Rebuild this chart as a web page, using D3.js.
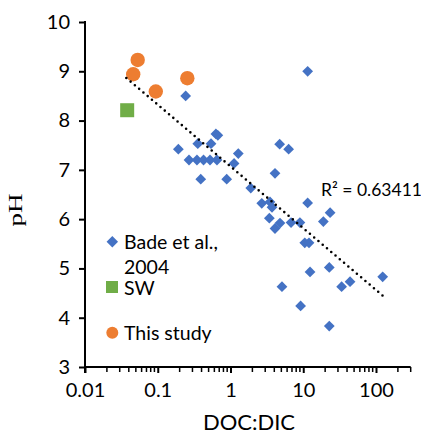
<!DOCTYPE html>
<html><head><meta charset="utf-8">
<script src="https://cdn.jsdelivr.net/npm/d3@7"></script>
<style>body{margin:0;background:#fff}svg{display:block}</style>
</head><body>
<script>
// ---- data ----
const badeX  = [11.5,0.242,0.63,0.67,0.192,0.355,0.54,0.269,0.346,0.426,0.523,0.652,1.28,1.12,0.39,0.887,4.74,6.3,4.09,1.9,2.69,3.49,3.72,3.42,4.09,4.79,6.8,9.0,11.5,10.5,12.0,18.9,23.4,12.4,22.8,5.1,33.7,44.0,123.6,9.2,22.8];
const badePH = [9.0,8.5,7.73,7.70,7.42,7.53,7.53,7.2,7.2,7.2,7.2,7.2,7.33,7.13,6.81,6.81,7.52,7.42,6.93,6.63,6.32,6.35,6.24,6.02,5.81,5.92,5.93,5.93,6.33,5.52,5.52,5.95,6.13,4.93,5.02,4.63,4.63,4.73,4.83,4.24,3.83];
const swX = [0.038];
const swPH = [8.21];
const studyX  = [0.053,0.046,0.094,0.255];
const studyPH = [9.23,8.94,8.59,8.86];
const trendX = [0.037,123.6];           // trendline x-range
const trendCoef = [-1.253, 7.07];       // pH = a*log10(x) + b
const r2Label = "R² = 0.63411";
const xTicks = [0.01,0.1,1,10,100];
const xTickLabels = ["0.01","0.1","1","10","100"];
const yTicks = [3,4,5,6,7,8,9,10];
const yTickLabels = ["3","4","5","6","7","8","9","10"];
const legendLabels = [["Bade et al.,","2004"],["SW"],["This study"]];
const colors = {bade:"#4472C4", sw:"#70AD47", study:"#ED7D31"};

// ---- layout ----
const W=421,H=435;
const svg=d3.select("body").append("svg").attr("width",W).attr("height",H);
const x=d3.scaleLog().domain([0.01,300]).range([85,410.7]);
const y=d3.scaleLinear().domain([3,10]).range([367,22]);
const font="Lato, 'Open Sans', sans-serif";

// minor ticks
const minor=[];
for(let e=-2;e<=2;e++){for(let m=2;m<=9;m++){const v=m*Math.pow(10,e); if(v<=300) minor.push(v);}}
svg.append("g").selectAll("line").data(minor).join("line")
  .attr("x1",d=>x(d)).attr("x2",d=>x(d)).attr("y1",367).attr("y2",372)
  .attr("stroke","#000").attr("stroke-width",1.5);

// x axis
const xAxis=d3.axisBottom(x).tickValues(xTicks).tickFormat((d,i)=>xTickLabels[i]).tickSize(6).tickPadding(10);
const gx=svg.append("g").attr("transform","translate(0,367)").call(xAxis);
gx.select(".domain").attr("stroke","#000").attr("stroke-width",2).attr("d","M85,0H410.7");
gx.selectAll(".tick line").attr("stroke","#000").attr("stroke-width",2).attr("y1",-1);
gx.selectAll("text").attr("font-family",font).attr("font-size",20).attr("fill","#000");

// y axis
const yAxis=d3.axisLeft(y).tickValues(yTicks).tickFormat((d,i)=>yTickLabels[i]).tickSize(6).tickPadding(9);
const gy=svg.append("g").attr("transform","translate(85,0)").call(yAxis);
gy.select(".domain").attr("stroke","#000").attr("stroke-width",2).attr("d","M0,21V373");
gy.selectAll(".tick line").attr("stroke","#000").attr("stroke-width",2);
gy.selectAll("text").attr("font-family",font).attr("font-size",20).attr("fill","#000");

// axis titles
svg.append("text").attr("x",249).attr("y",430).attr("text-anchor","middle")
  .attr("font-family",font).attr("font-size",22).attr("fill","#000").text("DOC:DIC");
svg.append("text").attr("transform","translate(22,210) rotate(-90) scale(1.5,1)")
  .attr("text-anchor","middle").attr("font-family","'Liberation Serif','Times New Roman',serif")
  .attr("font-size",18).attr("fill","#000").text("pH");

// markers
const diamond=d3.symbol().type(d3.symbolSquare).size(58);
svg.append("g").selectAll("path").data(badeX.map((v,i)=>[v,badePH[i]])).join("path")
  .attr("d",diamond()).attr("fill",colors.bade)
  .attr("transform",d=>`translate(${x(d[0])},${y(d[1])}) rotate(45)`);
svg.append("g").selectAll("rect").data(swX.map((v,i)=>[v,swPH[i]])).join("rect")
  .attr("x",d=>x(d[0])-7).attr("y",d=>y(d[1])-7).attr("width",14).attr("height",14).attr("fill",colors.sw);
svg.append("g").selectAll("circle").data(studyX.map((v,i)=>[v,studyPH[i]])).join("circle")
  .attr("cx",d=>x(d[0])).attr("cy",d=>y(d[1])).attr("r",7.2).attr("fill",colors.study);

// trendline
const tx=d3.range(0,51).map(i=>Math.pow(10,Math.log10(trendX[0])+i/50*(Math.log10(trendX[1])-Math.log10(trendX[0]))));
svg.append("path").datum(tx)
  .attr("d",d3.line().x(d=>x(d)).y(d=>y(trendCoef[0]*Math.log10(d)+trendCoef[1])))
  .attr("fill","none").attr("stroke","#000").attr("stroke-width",2.6)
  .attr("stroke-linecap","round").attr("stroke-dasharray","0 5.6");
svg.append("text").attr("x",321).attr("y",196).attr("font-family",font).attr("font-size",17.5).attr("fill","#000").text(r2Label);

// legend
const lg=svg.append("g").attr("font-family",font).attr("font-size",19.5).attr("fill","#000");
lg.append("path").attr("d",d3.symbol().type(d3.symbolSquare).size(66)()).attr("fill",colors.bade)
  .attr("transform","translate(112.3,241.7) rotate(45)");
lg.append("text").attr("x",124).attr("y",248.5).text(legendLabels[0][0]);
lg.append("text").attr("x",124).attr("y",273.5).text(legendLabels[0][1]);
lg.append("rect").attr("x",106).attr("y",281).attr("width",12).attr("height",12).attr("fill",colors.sw);
lg.append("text").attr("x",124).attr("y",294.5).text(legendLabels[1][0]);
lg.append("circle").attr("cx",112.3).attr("cy",332.7).attr("r",6).attr("fill",colors.study);
lg.append("text").attr("x",124).attr("y",339.5).text(legendLabels[2][0]);
</script>
</body></html>
